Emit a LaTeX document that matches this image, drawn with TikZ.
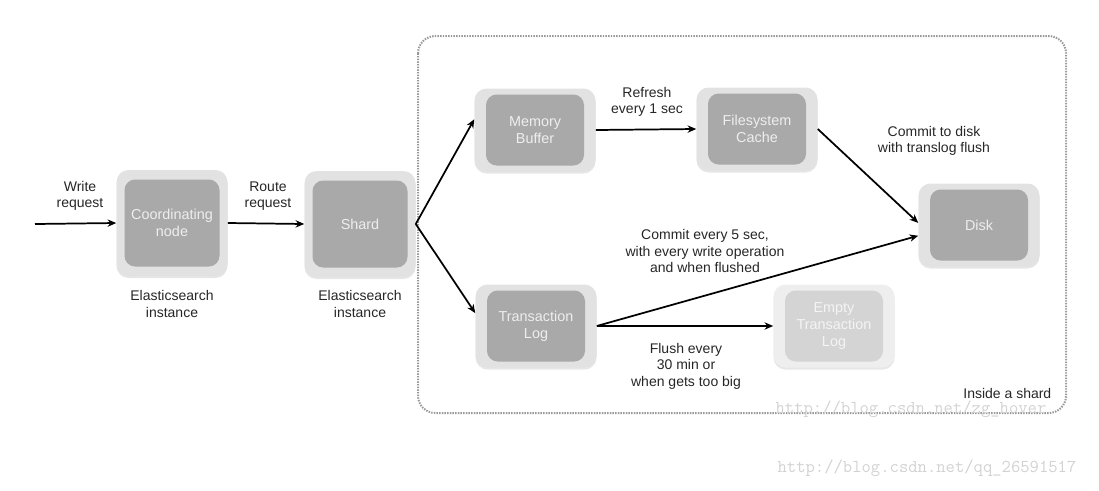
\documentclass[tikz,border=0pt]{standalone}
\usepackage{fontspec}
\setmainfont{Liberation Sans}
\usetikzlibrary{arrows.meta, shadows}

\definecolor{boxouter}{HTML}{E2E2E2}
\definecolor{boxinner}{HTML}{A9A9A9}
\definecolor{boxtext}{HTML}{EEEEEE}
\definecolor{emptyouter}{HTML}{EEEEEE}
\definecolor{emptyinner}{HTML}{D4D4D4}
\definecolor{emptytext}{HTML}{F4F4F4}
\definecolor{wmgray}{HTML}{D2D2D2}

\tikzset{
  outerbox/.style={rounded corners=9pt, fill=boxouter, inner sep=0pt,
    drop shadow={opacity=0.2, shadow xshift=0pt, shadow yshift=-1.5pt}},
  innerbox/.style={rounded corners=8pt, fill=boxinner, text=boxtext, align=center,
    inner sep=0pt, font=\fontsize{10.8}{12.6}\selectfont},
  nodeout/.style={outerbox, minimum width=111*0.75pt, minimum height=106*0.75pt},
  nodein/.style={innerbox, minimum width=95*0.75pt, minimum height=87*0.75pt},
  shardout/.style={outerbox, minimum width=121*0.75pt, minimum height=83*0.75pt},
  shardin/.style={innerbox, minimum width=98*0.75pt, minimum height=71*0.75pt},
  flow/.style={-{Stealth[length=6.5pt,width=5.5pt]}, line width=1.3pt},
  lbl/.style={align=center, font=\fontsize{10.5}{12.4}\selectfont, text=black!85},
  watermark/.style={font=\ttfamily\fontsize{13.6}{16}\selectfont, text=wmgray},
}

\begin{document}
\begin{tikzpicture}[x=0.75pt, y=-0.75pt]
  \useasboundingbox (0,0) rectangle (1099,490);

  % dotted frame round the shard internals
  \draw[gray!80, line width=1.5pt, dash pattern=on 1.1pt off 0.9pt, rounded corners=13pt]
    (418,36) rectangle (1066,413);

  % Elasticsearch instances
  \node[nodeout] (coord) at (172,223) {};
  \node[nodein] (coord-in) at (coord.center) {Coordinating\\node};
  \node[nodeout] (shard) at (360,224) {};
  \node[nodein] (shard-in) at (shard.center) {Shard};

  % Inside a shard
  \node[shardout] (mem) at (535,130) {};
  \node[shardin] (mem-in) at (mem.center) {Memory\\Buffer};
  \node[shardout] (fs) at (757,129) {};
  \node[shardin] (fs-in) at (fs.center) {Filesystem\\Cache};
  \node[shardout] (disk) at (979,225) {};
  \node[shardin] (disk-in) at (disk.center) {Disk};
  \node[shardout] (tlog) at (536,326) {};
  \node[shardin] (tlog-in) at (tlog.center) {Transaction\\Log};
  \node[shardout, fill=emptyouter] (empty) at (834,326) {};
  \node[shardin, fill=emptyinner, text=emptytext] (empty-in) at (empty.center) {Empty\\Transaction\\Log};

  % connectors
  \coordinate (start) at (35,224);
  \draw[flow] (start) -- (coord.west);
  \draw[flow] (coord.east) -- (shard.west);
  \draw[flow] (shard.east) -- (mem.170);
  \draw[flow] (shard.east) -- (tlog.168);
  \draw[flow] (mem.east) -- (fs.west);
  \draw[flow] (fs.east) -- (disk.178);
  \draw[flow] (tlog.east) -- (disk.190);
  \draw[flow] (tlog.east) -- (empty.west);

  % labels
  \node[lbl] (l-write) at (80,196) {Write\\request};
  \node[lbl] (l-route) at (268,196) {Route\\request};
  \node[lbl] (l-es1) at (172,304) {Elasticsearch\\instance};
  \node[lbl] (l-es2) at (360,304) {Elasticsearch\\instance};
  \node[lbl] (l-refresh) at (647,102) {Refresh\\every 1 sec};
  \node[lbl] (l-commit) at (934,141) {Commit to disk\\with translog flush};
  \node[lbl] (l-every) at (705,251) {Commit every 5 sec,\\with every write operation\\and when flushed};
  \node[lbl] (l-flush) at (686,366) {Flush every\\30 min or\\when gets too big};
  \node[lbl, anchor=east] (l-inside) at (1056,393) {Inside a shard};

  % watermarks
  \node[watermark] (wm1) at (911,409) {http://blog.csdn.net/zg\_hover};
  \node[watermark] (wm2) at (927,468) {http://blog.csdn.net/qq\_26591517};
\end{tikzpicture}
\end{document}
